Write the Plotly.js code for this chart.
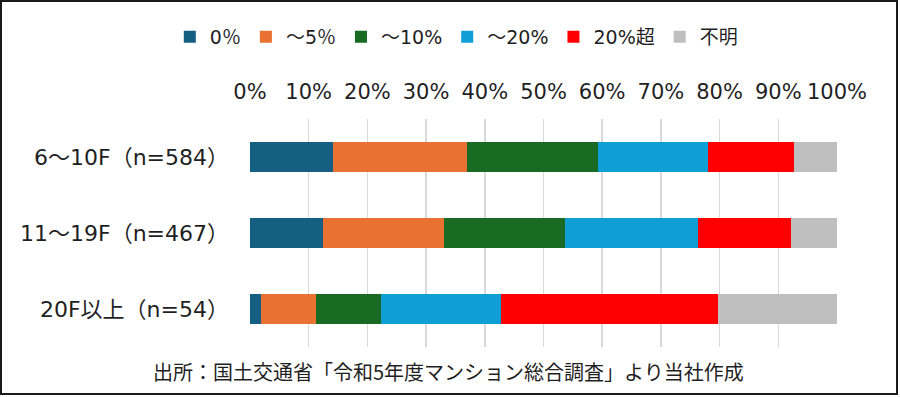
<!DOCTYPE html>
<html>
<head>
<meta charset="utf-8">
<script src="https://cdn.plot.ly/plotly-3.0.1.min.js"></script>
<style>
  html, body { margin: 0; padding: 0; background: #fff; }
  #wrap { position: relative; width: 900px; height: 397px; }
  #chart { position: absolute; left: 0; top: 0; width: 900px; height: 397px; }
  #frame { position: absolute; left: 0; top: 0; width: 898px; height: 395px; border: 2px solid #1a1a1a; box-sizing: border-box; pointer-events: none; }
</style>
</head>
<body>
<div id="wrap">
  <div id="chart"></div>
  <div id="frame"></div>
</div>
<script>
const categories = ["6～10F（n=584）", "11～19F（n=467）", "20F以上（n=54）"];
const seriesNames = ["0％", "～5％", "～10%", "～20%", "20%超", "不明"];
const s0   = [14.2, 12.4, 1.9];
const s5   = [22.8, 20.7, 9.3];
const s10  = [22.3, 20.5, 11.1];
const s20  = [18.7, 22.7, 20.4];
const sOver= [14.7, 15.9, 37.0];
const sUnk = [7.3, 7.8, 20.3];
const tickVals = [0, 10, 20, 30, 40, 50, 60, 70, 80, 90, 100];
const tickText = ["0%", "10%", "20%", "30%", "40%", "50%", "60%", "70%", "80%", "90%", "100%"];
const source = "出所：国土交通省「令和5年度マンション総合調査」より当社作成";

const colors = ["#156082", "#E97132", "#196B24", "#0F9ED5", "#FF0000", "#BFBFBF"];
const values = [s0, s5, s10, s20, sOver, sUnk];

const FONT = '"Noto Sans CJK JP", "Noto Sans", sans-serif';
const WFONT = '"DejaVu Sans", "Noto Sans CJK JP", sans-serif';
const TXT = '#1f1f1f';

const traces = values.map((v, i) => ({
  type: 'bar',
  orientation: 'h',
  name: seriesNames[i],
  x: v,
  y: categories,
  marker: { color: colors[i], line: { width: 0 } },
  hoverinfo: 'x+name'
}));

const layout = {
  width: 900,
  height: 397,
  margin: { l: 250, r: 63, t: 119, b: 50 },
  barmode: 'stack',
  bargap: 0.6,
  paper_bgcolor: '#ffffff',
  plot_bgcolor: '#ffffff',
  font: { family: FONT, size: 20, color: TXT },
  showlegend: true,
  legend: {
    orientation: 'h',
    xref: 'container',
    yref: 'container',
    x: 0.507,
    xanchor: 'center',
    y: 0.955,
    yanchor: 'top',
    font: { family: WFONT, size: 19, color: TXT },
    traceorder: 'normal',
    itemwidth: 30
  },
  xaxis: {
    side: 'top',
    range: [0, 100],
    tickvals: tickVals,
    ticktext: tickText,
    showgrid: true,
    gridcolor: '#D9D9D9',
    gridwidth: 1.5,
    zeroline: false,
    showline: false,
    ticks: '',
    ticklabelstandoff: 15,
    tickfont: { family: WFONT, size: 21, color: TXT },
    fixedrange: true
  },
  yaxis: {
    type: 'category',
    autorange: 'reversed',
    showgrid: false,
    zeroline: false,
    showline: false,
    ticks: '',
    ticklabelstandoff: 20,
    tickfont: { family: WFONT, size: 22, color: TXT },
    fixedrange: true
  },
  annotations: [{
    text: source,
    xref: 'paper',
    yref: 'paper',
    x: (448 - 250) / 587,
    xanchor: 'center',
    y: (347 - 371) / 228,
    yanchor: 'middle',
    showarrow: false,
    font: { family: FONT, size: 20, color: TXT }
  }]
};

Plotly.newPlot('chart', traces, layout, { displayModeBar: false, staticPlot: true });
</script>
</body>
</html>
